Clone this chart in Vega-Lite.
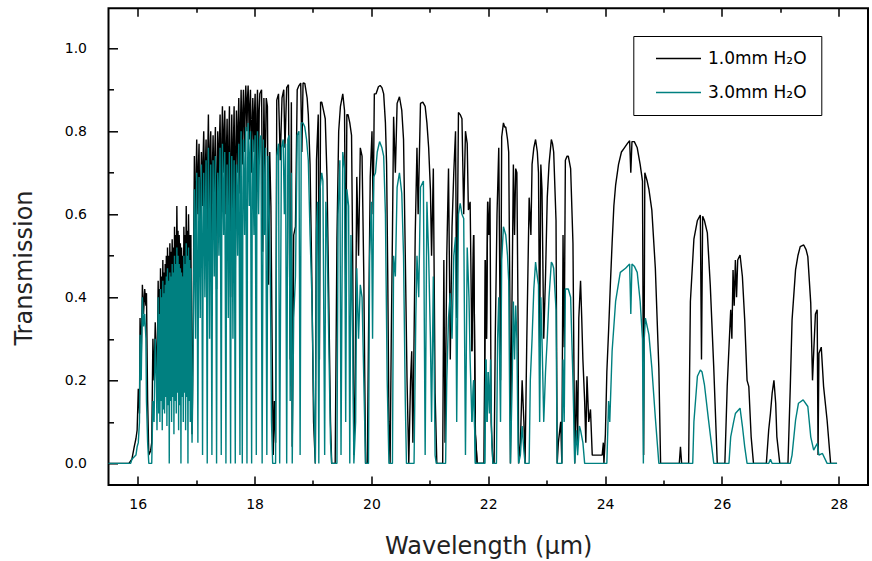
{
  "$schema": "https://vega.github.io/schema/vega-lite/v6.json",
  "width": 759.5,
  "height": 476.7,
  "autosize": {"type": "none"},
  "padding": {"left": 108.5, "top": 8.3, "right": 4, "bottom": 76},
  "background": "#ffffff",
  "config": {
    "view": {"stroke": "#000000", "strokeWidth": 2},
    "axis": {"zindex": 1, "domain": false, "grid": false, "ticks": true, "tickColor": "#000000", "tickWidth": 1.5, "labelFont": "DejaVu Sans", "labelFontSize": 14, "labelColor": "#000000", "titleFont": "DejaVu Sans", "titleFontSize": 24, "titleFontWeight": "normal", "titleColor": "#222222"}
  },
  "datasets": {
    "thin": [
      {"x":15.5,"y":0},{"x":15.85,"y":0},{"x":15.9,"y":0.01},{"x":15.94,"y":0.04},{"x":15.97,"y":0.06},{"x":15.99,"y":0.08},{"x":16.01,"y":0.18},{"x":16.03,"y":0.12},{"x":16.04,"y":0.35},{"x":16.06,"y":0.25},{"x":16.08,"y":0.43},{"x":16.1,"y":0.36},{"x":16.12,"y":0.42},{"x":16.14,"y":0.38},{"x":16.15,"y":0.41},{"x":16.17,"y":0.15},{"x":16.19,"y":0.02},{"x":16.22,"y":0.03},{"x":16.24,"y":0.05},{"x":16.26,"y":0.3},{"x":16.28,"y":0.2},{"x":16.3,"y":0.34},{"x":16.32,"y":0.25},{"x":16.33,"y":0.19},
      {"x":16.35,"y":0.44},{"x":16.36,"y":0.32},{"x":16.37,"y":0.42},{"x":16.38,"y":0.3},{"x":16.39,"y":0.47},{"x":16.4,"y":0.36},{"x":16.41,"y":0.45},{"x":16.42,"y":0.33},{"x":16.43,"y":0.49},{"x":16.44,"y":0.38},{"x":16.45,"y":0.46},{"x":16.46,"y":0.28},{"x":16.47,"y":0.48},{"x":16.48,"y":0.4},{"x":16.49,"y":0.5},{"x":16.5,"y":0.35},{"x":16.51,"y":0.52},{"x":16.52,"y":0.42},{"x":16.53,"y":0.5},{"x":16.54,"y":0.3},{"x":16.55,"y":0.53},{"x":16.56,"y":0.44},{"x":16.57,"y":0.51},{"x":16.58,"y":0.38},{"x":16.59,"y":0.54},{"x":16.6,"y":0.45},{"x":16.61,"y":0.52},{"x":16.62,"y":0.32},{"x":16.63,"y":0.57},{"x":16.64,"y":0.47},{"x":16.65,"y":0.55},{"x":16.66,"y":0.4},{"x":16.67,"y":0.62},{"x":16.68,"y":0.48},{"x":16.69,"y":0.56},{"x":16.7,"y":0.36},{"x":16.71,"y":0.55},{"x":16.72,"y":0.46},{"x":16.73,"y":0.53},{"x":16.74,"y":0.42},{"x":16.75,"y":0.52},{"x":16.76,"y":0.45},{"x":16.77,"y":0.5},{"x":16.78,"y":0.33},{"x":16.79,"y":0.57},{"x":16.8,"y":0.47},{"x":16.81,"y":0.55},{"x":16.82,"y":0.38},{"x":16.83,"y":0.62},{"x":16.84,"y":0.5},{"x":16.85,"y":0.56},{"x":16.86,"y":0.4},{"x":16.87,"y":0.6},{"x":16.88,"y":0.48},{"x":16.89,"y":0.55},{"x":16.9,"y":0.35},{"x":16.91,"y":0.55},{"x":16.92,"y":0.3},{"x":16.93,"y":0.07},{"x":16.94,"y":0.2},{"x":16.95,"y":0.37},
      {"x":16.97,"y":0.74},{"x":16.98,"y":0.6},{"x":16.99,"y":0.55},{"x":17.0,"y":0.7},{"x":17.01,"y":0.78},{"x":17.02,"y":0.66},{"x":17.03,"y":0.6},{"x":17.04,"y":0.72},{"x":17.05,"y":0.77},{"x":17.06,"y":0.6},{"x":17.07,"y":0.45},{"x":17.08,"y":0.68},{"x":17.09,"y":0.75},{"x":17.1,"y":0.7},{"x":17.11,"y":0.62},{"x":17.12,"y":0.74},{"x":17.13,"y":0.8},{"x":17.14,"y":0.7},{"x":17.15,"y":0.58},{"x":17.16,"y":0.72},{"x":17.17,"y":0.78},{"x":17.18,"y":0.66},{"x":17.19,"y":0.48},{"x":17.2,"y":0.75},{"x":17.21,"y":0.84},{"x":17.22,"y":0.7},{"x":17.23,"y":0.6},{"x":17.24,"y":0.76},{"x":17.25,"y":0.8},{"x":17.26,"y":0.68},{"x":17.27,"y":0.5},{"x":17.28,"y":0.72},{"x":17.29,"y":0.79},{"x":17.3,"y":0.7},{"x":17.31,"y":0.62},{"x":17.32,"y":0.75},{"x":17.33,"y":0.81},{"x":17.34,"y":0.6},{"x":17.35,"y":0.42},{"x":17.36,"y":0.7},{"x":17.37,"y":0.8},{"x":17.38,"y":0.74},{"x":17.39,"y":0.65},{"x":17.4,"y":0.78},{"x":17.41,"y":0.84},{"x":17.42,"y":0.7},{"x":17.43,"y":0.55},{"x":17.44,"y":0.78},{"x":17.45,"y":0.86},{"x":17.46,"y":0.78},{"x":17.47,"y":0.7},{"x":17.48,"y":0.8},{"x":17.49,"y":0.85},{"x":17.5,"y":0.74},{"x":17.51,"y":0.6},{"x":17.52,"y":0.76},{"x":17.53,"y":0.83},{"x":17.54,"y":0.7},{"x":17.55,"y":0.5},{"x":17.56,"y":0.78},{"x":17.57,"y":0.86},{"x":17.58,"y":0.68},{"x":17.59,"y":0.4},{"x":17.6,"y":0.74},{"x":17.61,"y":0.84},{"x":17.62,"y":0.72},{"x":17.63,"y":0.55},{"x":17.64,"y":0.78},{"x":17.65,"y":0.86},{"x":17.66,"y":0.7},{"x":17.67,"y":0.45},{"x":17.68,"y":0.76},{"x":17.69,"y":0.85},{"x":17.7,"y":0.78},{"x":17.71,"y":0.7},{"x":17.72,"y":0.82},{"x":17.73,"y":0.88},{"x":17.74,"y":0.78},{"x":17.75,"y":0.65},{"x":17.76,"y":0.82},{"x":17.77,"y":0.9},{"x":17.78,"y":0.8},{"x":17.79,"y":0.72},{"x":17.8,"y":0.85},{"x":17.81,"y":0.9},{"x":17.82,"y":0.82},{"x":17.83,"y":0.75},{"x":17.84,"y":0.86},{"x":17.85,"y":0.91},{"x":17.86,"y":0.86},{"x":17.87,"y":0.8},{"x":17.88,"y":0.88},{"x":17.89,"y":0.91},{"x":17.9,"y":0.85},{"x":17.91,"y":0.78},{"x":17.92,"y":0.86},{"x":17.93,"y":0.9},{"x":17.94,"y":0.8},{"x":17.95,"y":0.7},{"x":17.96,"y":0.82},{"x":17.97,"y":0.88},{"x":17.98,"y":0.82},{"x":17.99,"y":0.75},{"x":18.0,"y":0.85},{"x":18.01,"y":0.89},{"x":18.02,"y":0.75},{"x":18.03,"y":0.6},{"x":18.04,"y":0.84},{"x":18.05,"y":0.9},{"x":18.06,"y":0.82},{"x":18.07,"y":0.72},{"x":18.08,"y":0.85},{"x":18.09,"y":0.89},
      {"x":18.12,"y":0.9},{"x":18.14,"y":0.51},{"x":18.16,"y":0.88},{"x":18.18,"y":0.68},{"x":18.2,"y":0.88},{"x":18.22,"y":0.86},{"x":18.24,"y":0.43},{"x":18.26,"y":0.75},{"x":18.28,"y":0.62},{"x":18.3,"y":0.3},{"x":18.32,"y":0.02},{"x":18.34,"y":0.15},{"x":18.36,"y":0.05},{"x":18.38,"y":0.875},{"x":18.41,"y":0.89},{"x":18.44,"y":0.73},{"x":18.47,"y":0.88},{"x":18.5,"y":0.9},{"x":18.52,"y":0.76},{"x":18.55,"y":0.905},{"x":18.58,"y":0.912},{"x":18.61,"y":0.25},{"x":18.63,"y":0.87},{"x":18.645,"y":0.04},{"x":18.67,"y":0.55},{"x":18.7,"y":0.57},{"x":18.73,"y":0.9},{"x":18.76,"y":0.91},{"x":18.79,"y":0.916},{"x":18.81,"y":0.75},{"x":18.83,"y":0.916},{"x":18.86,"y":0.915},{"x":18.9,"y":0.88},{"x":18.92,"y":0.84},{"x":18.95,"y":0.72},{"x":18.98,"y":0.45},{"x":19.01,"y":0.1},{"x":19.04,"y":0},{"x":19.06,"y":0.73},{"x":19.09,"y":0.84},{"x":19.11,"y":0.25},{"x":19.13,"y":0.87},{"x":19.15,"y":0.87},{"x":19.18,"y":0.85},{"x":19.21,"y":0.83},{"x":19.24,"y":0.69},{"x":19.27,"y":0.4},{"x":19.3,"y":0.1},{"x":19.32,"y":0},{"x":19.38,"y":0},{"x":19.41,"y":0.54},{"x":19.44,"y":0.8},{"x":19.47,"y":0.86},{"x":19.51,"y":0.89},{"x":19.54,"y":0.85},{"x":19.56,"y":0.41},{"x":19.58,"y":0.84},{"x":19.6,"y":0.84},{"x":19.63,"y":0.82},{"x":19.66,"y":0.79},{"x":19.68,"y":0.49},{"x":19.7,"y":0.02},{"x":19.72,"y":0.17},{"x":19.75,"y":0.69},{"x":19.78,"y":0.5},{"x":19.81,"y":0.76},{"x":19.84,"y":0.74},{"x":19.87,"y":0.45},{"x":19.9,"y":0},{"x":19.93,"y":0},{"x":19.95,"y":0.3},{"x":19.98,"y":0.69},{"x":20.01,"y":0.8},{"x":20.03,"y":0.6},{"x":20.05,"y":0.89},
      {"x":20.08,"y":0.89},{"x":20.12,"y":0.907},{"x":20.15,"y":0.91},{"x":20.18,"y":0.905},{"x":20.21,"y":0.89},{"x":20.24,"y":0.82},{"x":20.26,"y":0.72},{"x":20.28,"y":0.45},{"x":20.3,"y":0.1},{"x":20.32,"y":0},{"x":20.34,"y":0.3},{"x":20.36,"y":0.55},{"x":20.38,"y":0.835},{"x":20.41,"y":0.7},{"x":20.44,"y":0.867},{"x":20.48,"y":0.883},{"x":20.52,"y":0.85},{"x":20.55,"y":0.78},{"x":20.58,"y":0.5},{"x":20.61,"y":0.2},{"x":20.64,"y":0},{"x":20.67,"y":0.2},{"x":20.69,"y":0.27},{"x":20.71,"y":0.05},{"x":20.73,"y":0.3},{"x":20.75,"y":0.55},{"x":20.78,"y":0.76},{"x":20.8,"y":0.6},{"x":20.84,"y":0.867},{"x":20.88,"y":0.87},{"x":20.92,"y":0.86},{"x":20.95,"y":0.82},{"x":20.98,"y":0.76},{"x":21.01,"y":0.66},{"x":21.03,"y":0.5},{"x":21.06,"y":0.71},{"x":21.09,"y":0.17},{"x":21.12,"y":0},{"x":21.22,"y":0},{"x":21.24,"y":0.49},{"x":21.26,"y":0.05},{"x":21.29,"y":0.5},{"x":21.32,"y":0.71},{"x":21.35,"y":0.25},{"x":21.38,"y":0.57},{"x":21.41,"y":0.7},{"x":21.44,"y":0.8},{"x":21.46,"y":0.35},{"x":21.49,"y":0.845},{"x":21.52,"y":0.84},{"x":21.55,"y":0.83},{"x":21.58,"y":0.6},{"x":21.61,"y":0.8},{"x":21.64,"y":0.77},{"x":21.66,"y":0.61},{"x":21.69,"y":0.63},{"x":21.72,"y":0.27},{"x":21.75,"y":0.55},{"x":21.78,"y":0.07},{"x":21.81,"y":0},{"x":21.93,"y":0},{"x":21.95,"y":0.49},{"x":21.97,"y":0.3},{"x":21.99,"y":0.63},{"x":22.01,"y":0.55},{"x":22.03,"y":0.64},{"x":22.05,"y":0.1},{"x":22.08,"y":0},
      {"x":22.1,"y":0},{"x":22.12,"y":0.3},{"x":22.15,"y":0.6},{"x":22.18,"y":0.76},{"x":22.21,"y":0.2},{"x":22.23,"y":0.786},{"x":22.26,"y":0.82},{"x":22.28,"y":0.81},{"x":22.3,"y":0.81},{"x":22.33,"y":0.78},{"x":22.35,"y":0.75},{"x":22.37,"y":0.4},{"x":22.38,"y":0},{"x":22.4,"y":0.3},{"x":22.43,"y":0.72},{"x":22.45,"y":0.55},{"x":22.47,"y":0.71},{"x":22.49,"y":0.7},{"x":22.51,"y":0.35},{"x":22.52,"y":0},{"x":22.55,"y":0.05},{"x":22.58,"y":0.2},{"x":22.61,"y":0.1},{"x":22.63,"y":0},{"x":22.66,"y":0.3},{"x":22.7,"y":0.64},{"x":22.73,"y":0.55},{"x":22.75,"y":0.72},{"x":22.78,"y":0.76},{"x":22.81,"y":0.78},{"x":22.84,"y":0.75},{"x":22.86,"y":0.7},{"x":22.88,"y":0.28},{"x":22.9,"y":0.72},{"x":22.92,"y":0.66},{"x":22.95,"y":0.3},{"x":22.98,"y":0.45},{"x":23.01,"y":0.64},{"x":23.04,"y":0.72},{"x":23.08,"y":0.78},{"x":23.1,"y":0.77},{"x":23.12,"y":0.75},{"x":23.16,"y":0.585},{"x":23.18,"y":0},{"x":23.2,"y":0.05},{"x":23.24,"y":0.1},{"x":23.26,"y":0},{"x":23.28,"y":0.55},{"x":23.3,"y":0.28},{"x":23.32,"y":0.73},{"x":23.35,"y":0.74},{"x":23.37,"y":0.74},{"x":23.41,"y":0.71},{"x":23.45,"y":0.53},{"x":23.48,"y":0},{"x":23.51,"y":0.2},{"x":23.53,"y":0.05},{"x":23.55,"y":0.35},{"x":23.58,"y":0.44},{"x":23.6,"y":0.35},{"x":23.62,"y":0.25},{"x":23.65,"y":0.15},{"x":23.67,"y":0.05},{"x":23.69,"y":0.21},{"x":23.72,"y":0.1},{"x":23.75,"y":0.13},{"x":23.78,"y":0.02},{"x":23.85,"y":0.02},{"x":23.95,"y":0.02},{"x":23.97,"y":0.05},{"x":23.98,"y":0},
      {"x":24.005,"y":0.07},{"x":24.03,"y":0.22},{"x":24.06,"y":0.32},{"x":24.09,"y":0.43},{"x":24.12,"y":0.53},{"x":24.15,"y":0.62},{"x":24.18,"y":0.67},{"x":24.23,"y":0.72},{"x":24.28,"y":0.75},{"x":24.33,"y":0.76},{"x":24.38,"y":0.77},{"x":24.42,"y":0.777},{"x":24.44,"y":0.7},{"x":24.46,"y":0.775},{"x":24.5,"y":0.775},{"x":24.55,"y":0.76},{"x":24.6,"y":0.72},{"x":24.64,"y":0.68},{"x":24.66,"y":0.02},{"x":24.68,"y":0.7},{"x":24.72,"y":0.68},{"x":24.75,"y":0.66},{"x":24.8,"y":0.61},{"x":24.86,"y":0.47},{"x":24.92,"y":0.23},{"x":24.95,"y":0},{"x":25.27,"y":0},{"x":25.29,"y":0.04},{"x":25.31,"y":0},{"x":25.43,"y":0},{"x":25.445,"y":0.2},{"x":25.46,"y":0.39},{"x":25.52,"y":0.54},{"x":25.58,"y":0.585},{"x":25.63,"y":0.598},{"x":25.65,"y":0.25},{"x":25.67,"y":0.595},{"x":25.7,"y":0.585},{"x":25.75,"y":0.555},{"x":25.8,"y":0.43},{"x":25.86,"y":0.23},{"x":25.92,"y":0},{"x":26.05,"y":0},{"x":26.09,"y":0.185},{"x":26.15,"y":0.37},{"x":26.17,"y":0.3},{"x":26.19,"y":0.466},{"x":26.21,"y":0.38},{"x":26.23,"y":0.49},{"x":26.25,"y":0.4},{"x":26.27,"y":0.49},{"x":26.31,"y":0.502},{"x":26.35,"y":0.45},{"x":26.39,"y":0.345},{"x":26.43,"y":0.2},{"x":26.46,"y":0.185},{"x":26.5,"y":0.064},{"x":26.54,"y":0},{"x":26.76,"y":0},{"x":26.8,"y":0.08},{"x":26.83,"y":0.12},{"x":26.86,"y":0.17},{"x":26.89,"y":0.2},{"x":26.92,"y":0.145},{"x":26.94,"y":0.064},{"x":26.99,"y":0},{"x":27.13,"y":0},{"x":27.17,"y":0.185},{"x":27.2,"y":0.345},{"x":27.26,"y":0.466},{"x":27.3,"y":0.5},{"x":27.34,"y":0.522},{"x":27.4,"y":0.526},{"x":27.44,"y":0.515},{"x":27.47,"y":0.498},{"x":27.52,"y":0.386},{"x":27.55,"y":0.2},{"x":27.57,"y":0.265},{"x":27.6,"y":0.36},{"x":27.63,"y":0.37},{"x":27.645,"y":0.02},{"x":27.66,"y":0.265},{"x":27.7,"y":0.28},{"x":27.74,"y":0.185},{"x":27.8,"y":0.104},{"x":27.86,"y":0},{"x":27.97,"y":0}
    ],
    "thick": [
      {"x":15.5,"y":0},{"x":15.88,"y":0},{"x":15.9,"y":0.01},{"x":15.97,"y":0.02},{"x":15.99,"y":0.04},{"x":16.01,"y":0.05},{"x":16.03,"y":0.1},{"x":16.04,"y":0.31},{"x":16.06,"y":0.2},{"x":16.08,"y":0.4},{"x":16.1,"y":0.33},{"x":16.12,"y":0.36},{"x":16.14,"y":0.3},{"x":16.15,"y":0.15},{"x":16.17,"y":0.05},{"x":16.19,"y":0},{"x":16.24,"y":0},{"x":16.26,"y":0.15},{"x":16.28,"y":0.1},{"x":16.3,"y":0.3},{"x":16.32,"y":0.2},{"x":16.33,"y":0.08},
      {"x":16.35,"y":0.4},{"x":16.36,"y":0.12},{"x":16.37,"y":0.36},{"x":16.38,"y":0.1},{"x":16.39,"y":0.42},{"x":16.4,"y":0.15},{"x":16.41,"y":0.4},{"x":16.42,"y":0.08},{"x":16.43,"y":0.44},{"x":16.44,"y":0.13},{"x":16.45,"y":0.41},{"x":16.46,"y":0.12},{"x":16.47,"y":0.43},{"x":16.48,"y":0.16},{"x":16.49,"y":0.45},{"x":16.5,"y":0.09},{"x":16.51,"y":0.47},{"x":16.52,"y":0.14},{"x":16.53,"y":0.44},{"x":16.54,"y":0},{"x":16.55,"y":0.46},{"x":16.56,"y":0.15},{"x":16.57,"y":0.45},{"x":16.58,"y":0.1},{"x":16.59,"y":0.48},{"x":16.6,"y":0.16},{"x":16.61,"y":0.46},{"x":16.62,"y":0.07},{"x":16.63,"y":0.5},{"x":16.64,"y":0.15},{"x":16.65,"y":0.48},{"x":16.66,"y":0.12},{"x":16.67,"y":0.52},{"x":16.68,"y":0.17},{"x":16.69,"y":0.5},{"x":16.7,"y":0.08},{"x":16.71,"y":0.48},{"x":16.72,"y":0.14},{"x":16.73,"y":0.47},{"x":16.74,"y":0},{"x":16.75,"y":0.46},{"x":16.76,"y":0.16},{"x":16.77,"y":0.45},{"x":16.78,"y":0.1},{"x":16.79,"y":0.5},{"x":16.8,"y":0.17},{"x":16.81,"y":0.48},{"x":16.82,"y":0.08},{"x":16.83,"y":0.53},{"x":16.84,"y":0.16},{"x":16.85,"y":0.5},{"x":16.86,"y":0},{"x":16.87,"y":0.52},{"x":16.88,"y":0.15},{"x":16.89,"y":0.49},{"x":16.9,"y":0.1},{"x":16.91,"y":0.47},{"x":16.92,"y":0.2},{"x":16.93,"y":0.05},{"x":16.94,"y":0.15},{"x":16.95,"y":0.3},
      {"x":16.97,"y":0.66},{"x":16.98,"y":0.45},{"x":16.99,"y":0.3},{"x":17.0,"y":0.6},{"x":17.01,"y":0.7},{"x":17.02,"y":0.4},{"x":17.03,"y":0.05},{"x":17.04,"y":0.5},{"x":17.05,"y":0.69},{"x":17.06,"y":0.5},{"x":17.07,"y":0.35},{"x":17.08,"y":0.6},{"x":17.09,"y":0.72},{"x":17.1,"y":0.45},{"x":17.11,"y":0.02},{"x":17.12,"y":0.55},{"x":17.13,"y":0.7},{"x":17.14,"y":0.55},{"x":17.15,"y":0.4},{"x":17.16,"y":0.62},{"x":17.17,"y":0.73},{"x":17.18,"y":0.4},{"x":17.19,"y":0},{"x":17.2,"y":0.6},{"x":17.21,"y":0.76},{"x":17.22,"y":0.55},{"x":17.23,"y":0.3},{"x":17.24,"y":0.6},{"x":17.25,"y":0.72},{"x":17.26,"y":0.4},{"x":17.27,"y":0.02},{"x":17.28,"y":0.55},{"x":17.29,"y":0.73},{"x":17.3,"y":0.6},{"x":17.31,"y":0.45},{"x":17.32,"y":0.65},{"x":17.33,"y":0.74},{"x":17.34,"y":0.4},{"x":17.35,"y":0},{"x":17.36,"y":0.55},{"x":17.37,"y":0.7},{"x":17.38,"y":0.6},{"x":17.39,"y":0.5},{"x":17.4,"y":0.68},{"x":17.41,"y":0.76},{"x":17.42,"y":0.45},{"x":17.43,"y":0.02},{"x":17.44,"y":0.6},{"x":17.45,"y":0.77},{"x":17.46,"y":0.65},{"x":17.47,"y":0.55},{"x":17.48,"y":0.68},{"x":17.49,"y":0.75},{"x":17.5,"y":0.4},{"x":17.51,"y":0},{"x":17.52,"y":0.55},{"x":17.53,"y":0.72},{"x":17.54,"y":0.55},{"x":17.55,"y":0.35},{"x":17.56,"y":0.62},{"x":17.57,"y":0.75},{"x":17.58,"y":0.4},{"x":17.59,"y":0},{"x":17.6,"y":0.58},{"x":17.61,"y":0.74},{"x":17.62,"y":0.55},{"x":17.63,"y":0.3},{"x":17.64,"y":0.6},{"x":17.65,"y":0.73},{"x":17.66,"y":0.4},{"x":17.67,"y":0},{"x":17.68,"y":0.6},{"x":17.69,"y":0.72},{"x":17.7,"y":0.6},{"x":17.71,"y":0.5},{"x":17.72,"y":0.7},{"x":17.73,"y":0.77},{"x":17.74,"y":0.45},{"x":17.75,"y":0.02},{"x":17.76,"y":0.65},{"x":17.77,"y":0.8},{"x":17.78,"y":0.4},{"x":17.79,"y":0},{"x":17.8,"y":0.65},{"x":17.81,"y":0.78},{"x":17.82,"y":0.65},{"x":17.83,"y":0.55},{"x":17.84,"y":0.72},{"x":17.85,"y":0.81},{"x":17.86,"y":0.45},{"x":17.87,"y":0},{"x":17.88,"y":0.7},{"x":17.89,"y":0.82},{"x":17.9,"y":0.72},{"x":17.91,"y":0.62},{"x":17.92,"y":0.74},{"x":17.93,"y":0.8},{"x":17.94,"y":0.4},{"x":17.95,"y":0},{"x":17.96,"y":0.65},{"x":17.97,"y":0.78},{"x":17.98,"y":0.65},{"x":17.99,"y":0.55},{"x":18.0,"y":0.72},{"x":18.01,"y":0.79},{"x":18.02,"y":0.4},{"x":18.03,"y":0.02},{"x":18.04,"y":0.65},{"x":18.05,"y":0.8},{"x":18.06,"y":0.7},{"x":18.07,"y":0.6},{"x":18.08,"y":0.72},{"x":18.09,"y":0.78},
      {"x":18.11,"y":0.79},{"x":18.13,"y":0},{"x":18.15,"y":0.78},{"x":18.17,"y":0.55},{"x":18.19,"y":0.76},{"x":18.21,"y":0.02},{"x":18.23,"y":0.74},{"x":18.25,"y":0.6},{"x":18.27,"y":0.45},{"x":18.29,"y":0.1},{"x":18.31,"y":0},{"x":18.36,"y":0},{"x":18.38,"y":0.74},{"x":18.41,"y":0.77},{"x":18.43,"y":0},{"x":18.46,"y":0.76},{"x":18.49,"y":0.78},{"x":18.51,"y":0.6},{"x":18.53,"y":0.77},{"x":18.55,"y":0},{"x":18.57,"y":0.78},{"x":18.59,"y":0.79},{"x":18.61,"y":0.15},{"x":18.63,"y":0.7},{"x":18.645,"y":0},{"x":18.67,"y":0.35},{"x":18.7,"y":0.45},{"x":18.73,"y":0.79},{"x":18.76,"y":0.8},{"x":18.78,"y":0.02},{"x":18.8,"y":0.82},{"x":18.83,"y":0.82},{"x":18.86,"y":0.81},{"x":18.89,"y":0.78},{"x":18.92,"y":0.73},{"x":18.95,"y":0.55},{"x":18.98,"y":0.41},{"x":19.01,"y":0.17},{"x":19.04,"y":0},{"x":19.06,"y":0.56},{"x":19.08,"y":0.63},{"x":19.1,"y":0},{"x":19.12,"y":0.66},{"x":19.15,"y":0.7},{"x":19.17,"y":0.68},{"x":19.2,"y":0.02},{"x":19.22,"y":0.63},{"x":19.24,"y":0.56},{"x":19.27,"y":0.3},{"x":19.3,"y":0.05},{"x":19.32,"y":0},{"x":19.41,"y":0},{"x":19.43,"y":0.6},{"x":19.46,"y":0.73},{"x":19.48,"y":0.02},{"x":19.51,"y":0.75},{"x":19.54,"y":0.71},{"x":19.56,"y":0.1},{"x":19.58,"y":0.66},{"x":19.61,"y":0.62},{"x":19.63,"y":0},{"x":19.65,"y":0.55},{"x":19.68,"y":0.3},{"x":19.7,"y":0},{"x":19.73,"y":0.1},{"x":19.75,"y":0.47},{"x":19.78,"y":0.3},{"x":19.81,"y":0.43},{"x":19.84,"y":0.4},{"x":19.87,"y":0.2},{"x":19.9,"y":0},{"x":19.95,"y":0},{"x":19.97,"y":0.5},{"x":20,"y":0.63},{"x":20.02,"y":0.3},{"x":20.04,"y":0.69},
      {"x":20.07,"y":0.7},{"x":20.1,"y":0.75},{"x":20.14,"y":0.775},{"x":20.18,"y":0.76},{"x":20.21,"y":0.74},{"x":20.24,"y":0.6},{"x":20.27,"y":0.2},{"x":20.3,"y":0},{"x":20.36,"y":0},{"x":20.38,"y":0.5},{"x":20.41,"y":0.45},{"x":20.44,"y":0.665},{"x":20.48,"y":0.7},{"x":20.52,"y":0.65},{"x":20.55,"y":0.5},{"x":20.58,"y":0.15},{"x":20.6,"y":0},{"x":20.73,"y":0},{"x":20.76,"y":0.35},{"x":20.78,"y":0.5},{"x":20.81,"y":0.4},{"x":20.84,"y":0.665},{"x":20.89,"y":0.68},{"x":20.92,"y":0.02},{"x":20.95,"y":0.63},{"x":20.98,"y":0.5},{"x":21.01,"y":0.3},{"x":21.03,"y":0.1},{"x":21.06,"y":0.45},{"x":21.09,"y":0.02},{"x":21.11,"y":0},{"x":21.27,"y":0},{"x":21.29,"y":0.2},{"x":21.32,"y":0.35},{"x":21.35,"y":0.41},{"x":21.38,"y":0.3},{"x":21.41,"y":0.5},{"x":21.44,"y":0.545},{"x":21.46,"y":0.1},{"x":21.49,"y":0.6},{"x":21.52,"y":0.626},{"x":21.55,"y":0.6},{"x":21.58,"y":0.59},{"x":21.61,"y":0.02},{"x":21.64,"y":0.52},{"x":21.67,"y":0.4},{"x":21.69,"y":0.25},{"x":21.72,"y":0.1},{"x":21.75,"y":0.2},{"x":21.78,"y":0},{"x":21.94,"y":0},{"x":21.96,"y":0.25},{"x":21.98,"y":0.1},{"x":22,"y":0.22},{"x":22.02,"y":0.12},{"x":22.04,"y":0.25},{"x":22.06,"y":0.05},{"x":22.08,"y":0},
      {"x":22.14,"y":0},{"x":22.16,"y":0.3},{"x":22.18,"y":0.4},{"x":22.21,"y":0.1},{"x":22.23,"y":0.49},{"x":22.26,"y":0.57},{"x":22.28,"y":0.56},{"x":22.3,"y":0.55},{"x":22.33,"y":0.5},{"x":22.35,"y":0.44},{"x":22.37,"y":0.1},{"x":22.38,"y":0},{"x":22.41,"y":0.2},{"x":22.43,"y":0.39},{"x":22.45,"y":0.25},{"x":22.47,"y":0.38},{"x":22.49,"y":0.3},{"x":22.51,"y":0.05},{"x":22.52,"y":0},{"x":22.55,"y":0.02},{"x":22.58,"y":0.09},{"x":22.61,"y":0.03},{"x":22.63,"y":0},{"x":22.7,"y":0},{"x":22.72,"y":0.2},{"x":22.75,"y":0.3},{"x":22.78,"y":0.42},{"x":22.81,"y":0.485},{"x":22.84,"y":0.45},{"x":22.86,"y":0.43},{"x":22.88,"y":0.1},{"x":22.9,"y":0.4},{"x":22.92,"y":0.3},{"x":22.95,"y":0.1},{"x":22.98,"y":0.22},{"x":23.01,"y":0.3},{"x":23.04,"y":0.4},{"x":23.08,"y":0.485},{"x":23.1,"y":0.48},{"x":23.12,"y":0.47},{"x":23.16,"y":0.37},{"x":23.18,"y":0},{"x":23.26,"y":0},{"x":23.28,"y":0.25},{"x":23.3,"y":0.1},{"x":23.32,"y":0.42},{"x":23.35,"y":0.42},{"x":23.37,"y":0.42},{"x":23.41,"y":0.4},{"x":23.45,"y":0.2},{"x":23.48,"y":0},{"x":23.51,"y":0.08},{"x":23.53,"y":0.02},{"x":23.56,"y":0.09},{"x":23.58,"y":0.08},{"x":23.62,"y":0.05},{"x":23.65,"y":0},{"x":24.03,"y":0},
      {"x":24.06,"y":0.15},{"x":24.08,"y":0.1},{"x":24.12,"y":0.27},{"x":24.18,"y":0.39},{"x":24.26,"y":0.46},{"x":24.35,"y":0.47},{"x":24.42,"y":0.48},{"x":24.44,"y":0.36},{"x":24.46,"y":0.48},{"x":24.5,"y":0.475},{"x":24.55,"y":0.46},{"x":24.6,"y":0.39},{"x":24.64,"y":0.3},{"x":24.655,"y":0},{"x":24.67,"y":0.3},{"x":24.69,"y":0.35},{"x":24.75,"y":0.31},{"x":24.8,"y":0.23},{"x":24.86,"y":0.11},{"x":24.92,"y":0},{"x":25.5,"y":0},{"x":25.52,"y":0.1},{"x":25.58,"y":0.21},{"x":25.63,"y":0.225},{"x":25.66,"y":0.22},{"x":25.7,"y":0.19},{"x":25.77,"y":0.105},{"x":25.86,"y":0},{"x":26.12,"y":0},{"x":26.15,"y":0.064},{"x":26.2,"y":0.1},{"x":26.23,"y":0.12},{"x":26.31,"y":0.133},{"x":26.35,"y":0.09},{"x":26.39,"y":0.04},{"x":26.43,"y":0},{"x":26.8,"y":0},{"x":26.83,"y":0.01},{"x":26.86,"y":0},{"x":27.17,"y":0},{"x":27.2,"y":0.02},{"x":27.26,"y":0.104},{"x":27.31,"y":0.145},{"x":27.39,"y":0.153},{"x":27.47,"y":0.137},{"x":27.52,"y":0.064},{"x":27.57,"y":0.032},{"x":27.63,"y":0.048},{"x":27.66,"y":0.02},{"x":27.72,"y":0.024},{"x":27.8,"y":0},{"x":27.97,"y":0}
    ]
  },
  "layer": [
    {
      "data": {"name": "thin"},
      "transform": [{"filter": "datum.x <= 22"}],
      "mark": {"type": "line", "strokeWidth": 1.4, "strokeJoin": "bevel"},
      "encoding": {
        "x": {"field": "x", "type": "quantitative",
          "scale": {"domain": [15.5, 28.5], "nice": false, "zero": false},
          "axis": {"orient": "bottom", "values": [16,18,20,22,24,26,28],
            "tickSize": 9, "offset": -9, "labelPadding": 12,
            "title": "Wavelength (μm)", "titleY": 77.3, "titleBaseline": "alphabetic"}},
        "y": {"field": "y", "type": "quantitative",
          "scale": {"domain": [-0.052, 1.096], "nice": false, "zero": false},
          "axis": {"orient": "left", "values": [0,0.2,0.4,0.6,0.8,1.0], "format": ".1f",
            "tickSize": 9, "offset": -9, "labelPadding": 22,
            "title": "Transmission", "titleX": -85.8, "titleY": 259.2, "titleBaseline": "alphabetic"}},
        "color": {"datum": "1.0mm H₂O", "type": "nominal",
          "scale": {"domain": ["1.0mm H₂O", "3.0mm H₂O"], "range": ["#000000", "#008080"]},
          "legend": {"title": null, "orient": "none", "legendX": 524.8, "legendY": 27.7,
            "strokeColor": "#000000", "fillColor": "#ffffff", "padding": 14,
            "symbolType": "M-3,0H3", "symbolSize": 225, "symbolStrokeWidth": 1.5, "symbolOffset": 22.7,
            "labelFont": "DejaVu Sans", "labelFontSize": 17, "labelColor": "#000000", "labelOffset": 21, "rowPadding": 16}}
      }
    },
    {
      "data": {"name": "thin"},
      "transform": [{"filter": "datum.x >= 21.7"}],
      "mark": {"type": "line", "strokeWidth": 1.4, "strokeJoin": "bevel"},
      "encoding": {
        "x": {"field": "x", "type": "quantitative",
          "axis": {"orient": "top", "values": [16,18,20,22,24,26,28], "labels": false, "title": null, "tickSize": 8, "offset": -8}},
        "y": {"field": "y", "type": "quantitative",
          "axis": {"orient": "left", "values": [0.1,0.3,0.5,0.7,0.9], "labels": false, "title": null, "tickSize": 5, "offset": -5}},
        "color": {"datum": "1.0mm H₂O", "type": "nominal"}
      }
    },
    {
      "data": {"name": "thick"},
      "transform": [{"filter": "datum.x <= 22"}],
      "mark": {"type": "line", "strokeWidth": 1.4, "strokeJoin": "bevel"},
      "encoding": {
        "x": {"field": "x", "type": "quantitative",
          "axis": {"orient": "bottom", "values": [17,19,21,23,25,27], "labels": false, "title": null, "tickSize": 5, "offset": -5}},
        "y": {"field": "y", "type": "quantitative", "axis": null},
        "color": {"datum": "3.0mm H₂O", "type": "nominal"}
      }
    },
    {
      "data": {"name": "thick"},
      "transform": [{"filter": "datum.x >= 21.7"}],
      "mark": {"type": "line", "strokeWidth": 1.4, "strokeJoin": "bevel"},
      "encoding": {
        "x": {"field": "x", "type": "quantitative",
          "axis": {"orient": "top", "values": [17,19,21,23,25,27], "labels": false, "title": null, "tickSize": 4, "offset": -4}},
        "y": {"field": "y", "type": "quantitative", "axis": null},
        "color": {"datum": "3.0mm H₂O", "type": "nominal"}
      }
    }
  ],
  "resolve": {"axis": {"x": "independent", "y": "independent"}}
}
